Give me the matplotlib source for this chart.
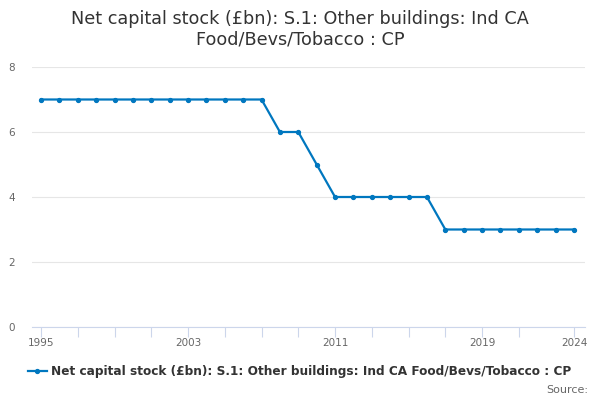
import matplotlib
matplotlib.use('Agg')
import matplotlib.pyplot as plt

years = list(range(1995, 2025))
values = [7, 7, 7, 7, 7, 7, 7, 7, 7, 7, 7, 7, 7,
          6, 6, 5,
          4, 4, 4, 4, 4, 4,
          3, 3, 3, 3, 3, 3, 3, 3]
tick_years = list(range(1995, 2022, 2)) + [2024]
label_years = [1995, 2003, 2011, 2019, 2024]
series_name = 'Net capital stock (£bn): S.1: Other buildings: Ind CA Food/Bevs/Tobacco : CP'

fig = plt.figure(figsize=(6, 4), dpi=100)
ax = fig.add_axes([0.053, 0.1825, 0.922, 0.65])

ax.plot(years, values, color='#0077bf', lw=1.6, marker='o', ms=2.8, label=series_name)

ax.set_xlim(1994.5, 2024.6)
ax.set_ylim(0, 8)
ax.set_yticks([0, 2, 4, 6, 8])
ax.set_xticks(tick_years)
ax.set_xticklabels([str(y) if y in label_years else '' for y in tick_years])
ax.grid(axis='y', color='#e6e6e6', lw=0.8)
ax.set_axisbelow(True)
for s in ['top', 'right', 'left']:
    ax.spines[s].set_visible(False)
ax.spines['bottom'].set_color('#ccd6eb')
ax.tick_params(axis='y', length=0, labelsize=7.5, labelcolor='#666666', pad=12)
ax.tick_params(axis='x', length=7, color='#ccd6eb', labelsize=7.5, labelcolor='#666666', pad=1)

fig.suptitle('Net capital stock (£bn): S.1: Other buildings: Ind CA\nFood/Bevs/Tobacco : CP',
             y=0.975, fontsize=12.7, color='#333333', linespacing=1.15)

leg = fig.legend(loc='center', bbox_to_anchor=(0.5, 0.07), frameon=False,
                 prop={'weight': 'bold', 'size': 8.7}, handlelength=1.5, handletextpad=0.4)
for t in leg.get_texts():
    t.set_color('#333333')
fig.text(0.98, 0.025, 'Source:', ha='right', va='center', fontsize=8, color='#666666')

fig.savefig('out.png', dpi=100)
